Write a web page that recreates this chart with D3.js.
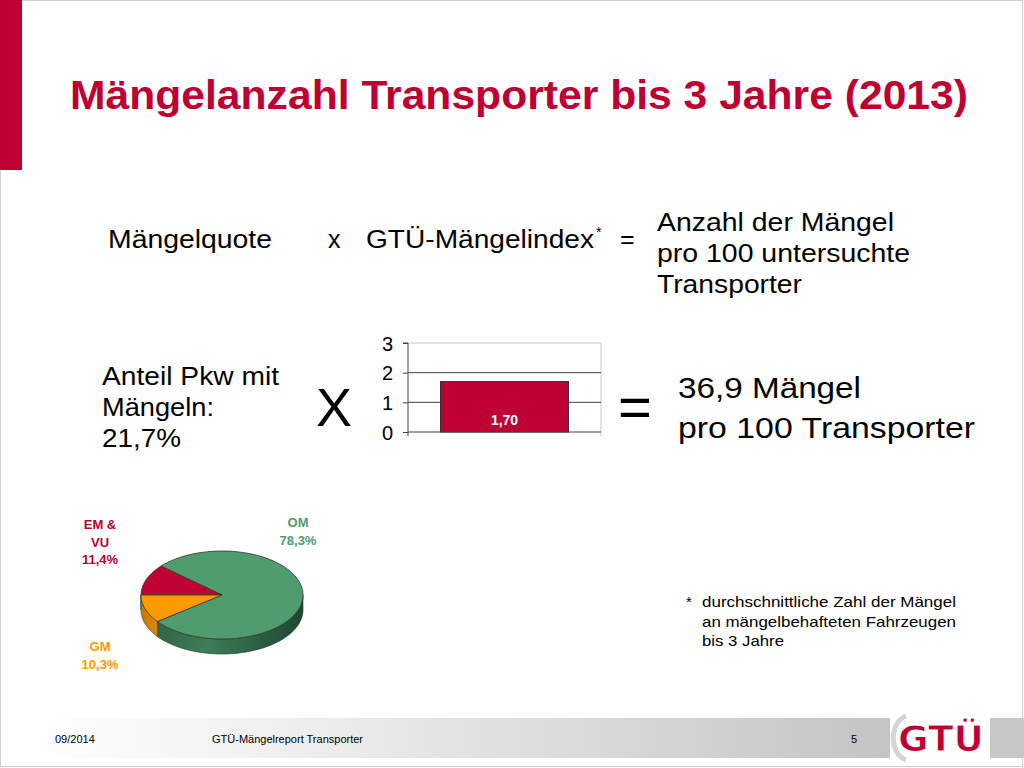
<!DOCTYPE html>
<html><head><meta charset="utf-8">
<script src="https://cdn.jsdelivr.net/npm/d3@7"></script>
<style>html,body{margin:0;padding:0;background:#fff}svg{display:block}text{font-family:Arial,"Liberation Sans",sans-serif}</style>
</head><body><svg id="c" width="1024" height="768"></svg>
<script>
// ---- data ----
const barCategories = ["GTÜ-Mängelindex"];
const barValues = [1.70];
const barValueLabels = ["1,70"];
const yTicks = [0, 1, 2, 3];
const pieCategories = ["OM", "EM & VU", "GM"];
const pieValues = [78.3, 11.4, 10.3];
const pieLabels = ["78,3%", "11,4%", "10,3%"];

const RED = "#be0032", GREEN = "#4f9d6f", ORANGE = "#ff9900";
const svg = d3.select("#c");

// defs
const defs = svg.append("defs");
const fg = defs.append("linearGradient").attr("id","foot").attr("x1","0").attr("x2","1");
fg.append("stop").attr("offset","0").attr("stop-color","#ffffff");
fg.append("stop").attr("offset","0.25").attr("stop-color","#f2f2f2");
fg.append("stop").attr("offset","1").attr("stop-color","#c4c4c4");
const sg = defs.append("linearGradient").attr("id","side").attr("gradientUnits","userSpaceOnUse")
  .attr("x1",141).attr("x2",303).attr("y1",0).attr("y2",0);
sg.append("stop").attr("offset","0").attr("stop-color","#2c5f3f");
sg.append("stop").attr("offset","0.4").attr("stop-color","#3f7d57");
sg.append("stop").attr("offset","1").attr("stop-color","#1e4630");
const og = defs.append("linearGradient").attr("id","oside").attr("x1","0").attr("x2","1");
og.append("stop").attr("offset","0").attr("stop-color","#c97800");
og.append("stop").attr("offset","1").attr("stop-color","#e08a00");

// frame
svg.append("rect").attr("x",0.5).attr("y",0.5).attr("width",1022).attr("height",766).attr("fill","none").attr("stroke","#d0d0d0");
svg.append("rect").attr("x",0).attr("y",0).attr("width",22).attr("height",170).attr("fill",RED);

// title
svg.append("text").attr("x",70).attr("y",109).attr("font-size",40).attr("font-weight","bold").attr("fill",RED)
  .attr("textLength",898).attr("lengthAdjust","spacingAndGlyphs")
  .text("Mängelanzahl Transporter bis 3 Jahre (2013)");

const t = (x,y,s,txt,opt={})=>{
  const e=svg.append("text").attr("x",x).attr("y",y).attr("font-size",s).attr("fill",opt.fill||"#000").text(txt);
  if(opt.w) e.attr("textLength",opt.w).attr("lengthAdjust","spacingAndGlyphs");
  if(opt.bold) e.attr("font-weight","bold");
  if(opt.anchor) e.attr("text-anchor",opt.anchor);
  return e;
};
t(108,248,25,"Mängelquote",{w:164});
t(328,248,25,"x");
t(366,248,25,"GTÜ-Mängelindex",{w:228});
t(596,237,14,"*");
t(620,248,25,"=");
t(657,231,25,"Anzahl der Mängel",{w:237});
t(657,262,25,"pro 100 untersuchte",{w:253});
t(657,293,25,"Transporter",{w:145});

t(102,385,25,"Anteil Pkw mit",{w:177});
t(102,416,25,"Mängeln:",{w:112});
t(102,447,25,"21,7%",{w:79});
t(316,426,54,"X");
t(618,427,58,"=");
t(678,398,29,"36,9 Mängel",{w:183});
t(678,438,29,"pro 100 Transporter",{w:297});

// footnote
t(686,607,15,"*");
t(702,607,15,"durchschnittliche Zahl der Mängel",{w:254});
t(702,627,15,"an mängelbehafteten Fahrzeugen",{w:254});
t(702,646,15,"bis 3 Jahre",{w:82});

// ---- bar chart ----
const x0=408, x1=601, yTop=343, yBot=432;
const y = d3.scaleLinear().domain([0,3]).range([yBot,yTop]);
const xb = d3.scaleBand().domain(barCategories).range([x0,x1]).paddingInner(0).paddingOuter(0.254);
const bc = svg.append("g");
bc.append("line").attr("x1",x0).attr("x2",x1).attr("y1",y(3)).attr("y2",y(3)).attr("stroke","#c8c8c8");
bc.append("line").attr("x1",x1).attr("x2",x1).attr("y1",y(3)).attr("y2",yBot+4).attr("stroke","#c8c8c8");
bc.selectAll(".g").data([1,2]).join("line").attr("x1",x0).attr("x2",x1)
  .attr("y1",d=>y(d)).attr("y2",d=>y(d)).attr("stroke","#444").attr("stroke-width",1);
bc.selectAll(".b").data(barValues).join("rect")
  .attr("x",(d,i)=>xb(barCategories[i])).attr("width",xb.bandwidth())
  .attr("y",d=>y(d)).attr("height",d=>yBot-y(d)).attr("fill",RED).attr("stroke","#333").attr("stroke-width",1);
bc.selectAll(".bl").data(barValues).join("text")
  .attr("x",(d,i)=>xb(barCategories[i])+xb.bandwidth()/2).attr("y",yBot-7)
  .attr("text-anchor","middle").attr("font-size",14).attr("font-weight","bold").attr("fill","#fff")
  .text((d,i)=>barValueLabels[i]);
const ax = d3.axisLeft(y).tickValues(yTicks).tickSize(5).tickFormat(d3.format("d"));
const ag = bc.append("g").attr("transform",`translate(${x0},0)`).call(ax);
ag.attr("font-size",null).attr("font-family",null);
ag.select(".domain").attr("stroke","#444").attr("d",`M-5,${yTop}H0V${yBot+4}`);
ag.selectAll(".tick line").attr("stroke","#444");
ag.selectAll(".tick text").style("font-size","20px").attr("fill","#000").attr("x",-15).attr("dy","0.36em");
bc.append("line").attr("x1",x0).attr("x2",x1).attr("y1",yBot).attr("y2",yBot).attr("stroke","#444");

// ---- 3D pie ----
const cx=222, cy=595, rx=81, ry=44, depth=15;
// counter-clockwise pie: OM, EM & VU, GM. Boundary EM/GM placed at 9 o'clock.
const vals = pieValues, tot = d3.sum(vals);
const omEm = (vals[0]+vals[1])/tot*2*Math.PI;
const s0 = 3*Math.PI/2 + omEm;
const arcsRaw = d3.pie().sort(null).value(d=>d).startAngle(s0).endAngle(s0-2*Math.PI)(vals);
const arcs = arcsRaw.map(a=>{
  const t0 = Math.min(a.startAngle,a.endAngle)-Math.PI/2, t1 = Math.max(a.startAngle,a.endAngle)-Math.PI/2;
  return {i:a.index, t0, t1};
});
const pt = (th,dz=0)=>[cx+rx*Math.cos(th), cy+ry*Math.sin(th)+dz];
const colors = [GREEN, RED, ORANGE];
const sideColors = ["url(#side)", "#8a0022", "url(#oside)"];
const pg = svg.append("g");
function ellArc(th0, th1, dz, n=80){
  const pts=[]; for(let k=0;k<=n;k++){const th=th0+(th1-th0)*k/n; pts.push(pt(th,dz));} return pts;
}
arcs.forEach(a=>{
  for(let sh of [-4*Math.PI,-2*Math.PI,0,2*Math.PI,4*Math.PI]){
    const lo=Math.max(a.t0+sh,0), hi=Math.min(a.t1+sh,Math.PI);
    if(hi>lo){
      const top=ellArc(lo,hi,0), bot=ellArc(hi,lo,depth);
      pg.append("path").attr("d","M"+top.concat(bot).map(p=>p.join(",")).join("L")+"Z")
        .attr("fill",sideColors[a.i]).attr("stroke","#1c3a28").attr("stroke-width",0.6);
    }
  }
});
arcs.forEach(a=>{
  const pts=[[cx,cy]].concat(ellArc(a.t0,a.t1,0));
  pg.append("path").attr("d","M"+pts.map(p=>p.join(",")).join("L")+"Z")
    .attr("fill",colors[a.i]).attr("stroke","#333").attr("stroke-width",0.8).attr("stroke-linejoin","round");
});

// pie labels
const lab = (x,yy,lines,fill)=>lines.forEach((l,k)=>svg.append("text").attr("x",x).attr("y",yy+k*17.5)
  .attr("text-anchor","middle").attr("font-size",13).attr("font-weight","bold").attr("fill",fill).text(l));
lab(298,527,[pieCategories[0], pieLabels[0]], GREEN);
lab(100,529,["EM &","VU", pieLabels[1]], RED);
lab(100,651,[pieCategories[2], pieLabels[2]], ORANGE);

// footer
svg.append("rect").attr("x",30).attr("y",718).attr("width",860).attr("height",40).attr("fill","url(#foot)");
svg.append("rect").attr("x",990).attr("y",718).attr("width",34).attr("height",40).attr("fill","#c8c8c8");
t(55,743,11,"09/2014");
t(212,743,11,"GTÜ-Mängelreport Transporter");
t(851,743,11,"5");
// logo
const lg = svg.append("g");
lg.append("path").attr("d","M906,716 C889,722 889,754 906,760").attr("fill","none").attr("stroke","#d5d5d5").attr("stroke-width",5);
lg.append("text").attr("x",898).attr("y",751).attr("font-size",36).attr("font-weight","bold").attr("fill",RED)
  .attr("stroke","#fff").attr("stroke-width",1)
  .attr("textLength",86).attr("lengthAdjust","spacingAndGlyphs").style("font-family",'"DejaVu Sans",sans-serif').text("GTÜ");
</script></body></html>
